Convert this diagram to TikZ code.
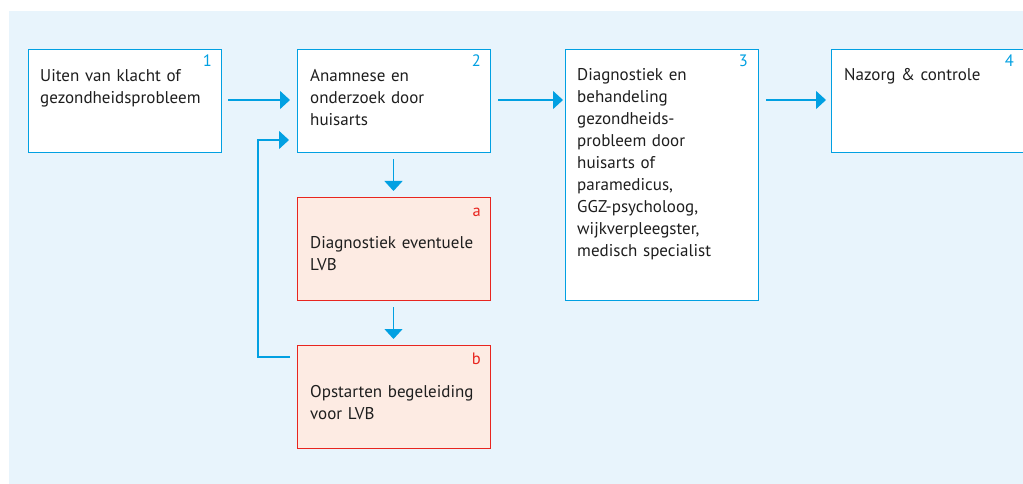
\documentclass[tikz,border=0pt]{standalone}
\usepackage{fontspec}
\setmainfont[WordSpace=0.85]{PT Sans}
\usetikzlibrary{arrows.meta}
\definecolor{bgblue}{HTML}{E8F4FC}
\definecolor{lineblue}{HTML}{01A0E2}
\definecolor{redline}{HTML}{E8251F}
\definecolor{redfill}{HTML}{FDEBE3}
\definecolor{txtcol}{HTML}{1E1E1E}
\tikzset{
  box/.style={draw=lineblue, line width=1.3pt, fill=white, inner sep=0pt, anchor=north west},
  redbox/.style={draw=redline, line width=1.3pt, fill=redfill, inner sep=0pt, anchor=north west},
  txt/.style={inner sep=0pt, anchor=base west, text width=#1, align=left, text=txtcol,
    font=\fontsize{17}{22}\selectfont},
  txt/.default=178pt,
  num/.style={inner sep=0pt, anchor=base east, text=lineblue, font=\fontsize{16.5}{16}\selectfont},
  rnum/.style={num, text=redline},
  conn/.style={draw=lineblue, line width=1.3pt, -{Triangle[length=10pt,width=18pt]}},
}
\begin{document}
\begin{tikzpicture}[x=1pt,y=-1pt]
\useasboundingbox (0,0) rectangle (1023,484);
\fill[bgblue] (9,11) rectangle (1023,484);
% boxes
\node[box, minimum width=193pt, minimum height=103pt] (b1) at (28,49) {};
\node[box, minimum width=193pt, minimum height=103pt] (b2) at (297,49) {};
\node[box, minimum width=193pt, minimum height=251pt] (b3) at (565,49) {};
\node[box, minimum width=205pt, minimum height=103pt] (b4) at (831,49) {};
\node[redbox, minimum width=193pt, minimum height=103pt] (ba) at (297,197) {};
\node[redbox, minimum width=193pt, minimum height=103pt] (bb) at (297,345) {};
% numbers
\node[num] (n1) at (212,67) {1};
\node[num] (n2) at (481,67) {2};
\node[num] (n3) at (748,67) {3};
\node[num] (n4) at (1014,67) {4};
\node[rnum] (na) at (481,216) {a};
\node[rnum] (nb) at (481,364) {b};
% texts
\node[txt] (t1) at (40,82) {Uiten van klacht of\\gezondheidsprobleem};
\node[txt] (t2) at (310,82) {Anamnese en\\onderzoek door\\huisarts};
\node[txt=170pt] (t3) at (577,81) {Diagnostiek en\\behandeling\\gezondheids-\\probleem door\\huisarts of\\paramedicus,\\GGZ-psycholoog,\\wijkverpleegster,\\medisch specialist};
\node[txt] (t4) at (844,81) {Nazorg \& controle};
\node[txt] (ta) at (310,248) {Diagnostiek eventuele\\LVB};
\node[txt] (tb) at (310,397) {Opstarten begeleiding\\voor LVB};
% connectors
\coordinate (c12s) at ([xshift=6pt]b1.east |- 0,100);
\coordinate (c12e) at ([xshift=-7pt]b2.west |- 0,100);
\draw[conn] (c12s) -- (c12e);
\coordinate (c23s) at ([xshift=7pt]b2.east |- 0,100);
\coordinate (c23e) at ([xshift=-2pt]b3.west |- 0,100);
\draw[conn] (c23s) -- (c23e);
\coordinate (c34s) at ([xshift=7pt]b3.east |- 0,100);
\coordinate (c34e) at ([xshift=-5pt]b4.west |- 0,100);
\draw[conn] (c34s) -- (c34e);
\coordinate (c2as) at ([yshift=-6pt]b2.south -| 393.5,0);
\coordinate (c2ae) at ([yshift=6pt]ba.north -| 393.5,0);
\draw[conn] (c2as) -- (c2ae);
\coordinate (cabs) at ([yshift=-6pt]ba.south -| 393.5,0);
\coordinate (cabe) at ([yshift=6pt]bb.north -| 393.5,0);
\draw[conn] (cabs) -- (cabe);
\coordinate (cfbs) at ([xshift=-7pt]bb.west |- 0,357);
\coordinate (cfbe) at ([xshift=-8pt]b2.west |- 0,140);
\draw[conn] (cfbs) -- (258,357) -- (258,140) -- (cfbe);
\end{tikzpicture}
\end{document}
